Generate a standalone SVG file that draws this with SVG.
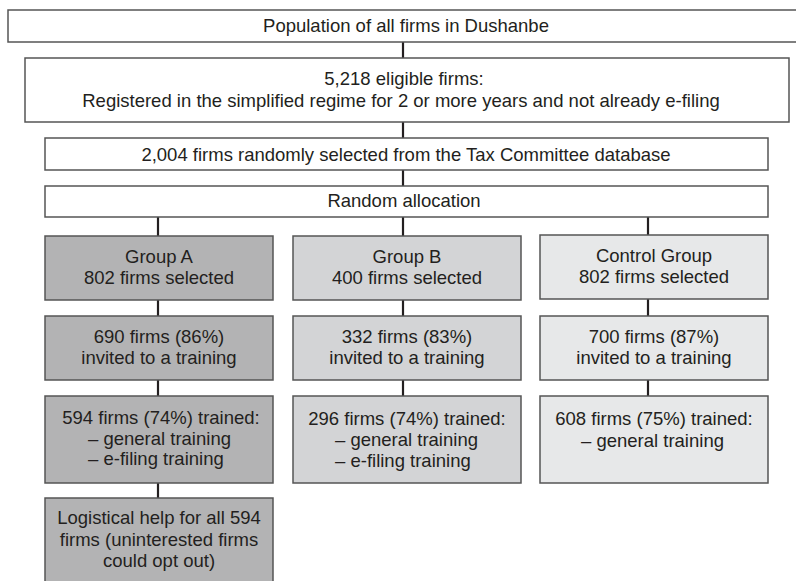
<svg xmlns="http://www.w3.org/2000/svg" width="796" height="581" viewBox="0 0 796 581">
<style>
.box{stroke:#555;stroke-width:1.5}
.w{fill:#fff}
.a{fill:#b3b3b4}
.b{fill:#d3d4d6}
.c{fill:#e7e8e9}
text{font-family:"Liberation Sans",Arial,Helvetica,sans-serif;font-size:18.5px;fill:#231f20}
.m{text-anchor:middle}
.conn line{stroke:#231f20;stroke-width:2.2}
</style>
<rect width="796" height="581" fill="#fff"/>
<g id="connectors" class="conn">
<line x1="403" y1="42" x2="403" y2="58"/>
<line x1="403" y1="122" x2="403" y2="138"/>
<line x1="403" y1="170" x2="403" y2="186"/>
<line x1="158" y1="217" x2="158" y2="236"/>
<line x1="403" y1="217" x2="403" y2="236"/>
<line x1="648" y1="217" x2="648" y2="235"/>
<line x1="158" y1="300" x2="158" y2="316"/>
<line x1="403" y1="300" x2="403" y2="316"/>
<line x1="648" y1="299" x2="648" y2="316"/>
<line x1="158" y1="380" x2="158" y2="396"/>
<line x1="403" y1="380" x2="403" y2="396"/>
<line x1="648" y1="380" x2="648" y2="396"/>
<line x1="158" y1="483" x2="158" y2="498"/>
</g>
<g id="population">
<rect class="box w" x="8" y="10" width="800" height="32"/>
<text class="m" x="406" y="32">Population of all firms in Dushanbe</text>
</g>
<g id="eligible">
<rect class="box w" x="25" y="58" width="764" height="64"/>
<text class="m" x="404" y="85">5,218 eligible firms:</text>
<text class="m" x="401" y="107">Registered in the simplified regime for 2 or more years and not already e-filing</text>
</g>
<g id="selected">
<rect class="box w" x="45" y="138" width="723" height="32"/>
<text class="m" x="406" y="161">2,004 firms randomly selected from the Tax Committee database</text>
</g>
<g id="allocation">
<rect class="box w" x="45" y="186" width="723" height="31"/>
<text class="m" x="404" y="207">Random allocation</text>
</g>
<g id="groupA">
<rect class="box a" x="45" y="236" width="228" height="64"/>
<text class="m" x="159" y="263">Group A</text>
<text class="m" x="159" y="284">802 firms selected</text>
</g>
<g id="groupB">
<rect class="box b" x="293" y="236" width="228" height="64"/>
<text class="m" x="407" y="263">Group B</text>
<text class="m" x="407" y="284">400 firms selected</text>
</g>
<g id="control">
<rect class="box c" x="540" y="235" width="228" height="64"/>
<text class="m" x="654" y="262">Control Group</text>
<text class="m" x="654" y="283">802 firms selected</text>
</g>
<g id="invitedA">
<rect class="box a" x="45" y="316" width="228" height="64"/>
<text class="m" x="159" y="343">690 firms (86%)</text>
<text class="m" x="159" y="364">invited to a training</text>
</g>
<g id="invitedB">
<rect class="box b" x="293" y="316" width="228" height="64"/>
<text class="m" x="407" y="343">332 firms (83%)</text>
<text class="m" x="407" y="364">invited to a training</text>
</g>
<g id="invitedC">
<rect class="box c" x="540" y="316" width="228" height="64"/>
<text class="m" x="654" y="343">700 firms (87%)</text>
<text class="m" x="654" y="364">invited to a training</text>
</g>
<g id="trainedA">
<rect class="box a" x="45" y="396" width="228" height="87"/>
<text class="m" x="161" y="424">594 firms (74%) trained:</text>
<text x="88" y="444.5">– general training</text>
<text x="88" y="465">– e-filing training</text>
</g>
<g id="trainedB">
<rect class="box b" x="293" y="396" width="228" height="87"/>
<text class="m" x="407" y="425">296 firms (74%) trained:</text>
<text x="335" y="446">– general training</text>
<text x="335" y="467">– e-filing training</text>
</g>
<g id="trainedC">
<rect class="box c" x="540" y="396" width="228" height="87"/>
<text class="m" x="654" y="425">608 firms (75%) trained:</text>
<text x="581" y="446.5">– general training</text>
</g>
<g id="logistical">
<rect class="box a" x="45" y="498" width="228" height="100"/>
<text class="m" x="159" y="524">Logistical help for all 594</text>
<text class="m" x="159" y="545.5">firms (uninterested firms</text>
<text class="m" x="159" y="566.5">could opt out)</text>
</g>
</svg>
